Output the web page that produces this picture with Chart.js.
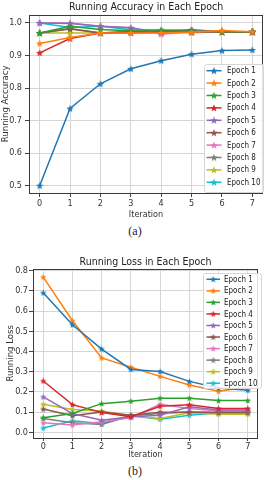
<!doctype html>
<html>
<head>
<meta charset="utf-8">
<title>Running Accuracy / Running Loss</title>
<script src="https://cdn.jsdelivr.net/npm/chart.js@4.4.0/dist/chart.umd.min.js"></script>
<style>
body { margin: 0; width: 270px; height: 480px; background: #fff; position: relative; overflow: hidden; }
canvas { position: absolute; left: 0; }
#accCanvas { top: 0; }
#lossCanvas { top: 255px; }
.cap { position: absolute; left: 0; width: 270px; text-align: center; line-height: 14px;
       font-family: "Liberation Serif", "DejaVu Serif", serif; font-size: 12px; color: #222; }
</style>
</head>
<body>
<canvas id="accCanvas" width="270" height="222"></canvas>
<div class="cap" style="top:224px">(a)</div>
<canvas id="lossCanvas" width="270" height="206"></canvas>
<div class="cap" style="top:464px">(b)</div>

<script>
// x axis: iteration index
var iterations = [0, 1, 2, 3, 4, 5, 6, 7];
var epochNames = ['Epoch 1', 'Epoch 2', 'Epoch 3', 'Epoch 4', 'Epoch 5',
                  'Epoch 6', 'Epoch 7', 'Epoch 8', 'Epoch 9', 'Epoch 10'];
var epochColors = ['#1f77b4', '#ff7f0e', '#2ca02c', '#d62728', '#9467bd',
                   '#8c564b', '#e377c2', '#7f7f7f', '#bcbd22', '#17becf'];

// running accuracy per epoch
var accE1  = [0.500, 0.737, 0.813, 0.859, 0.884, 0.904, 0.915, 0.917];
var accE2  = [0.937, 0.955, 0.969, 0.969, 0.969, 0.971, 0.977, 0.973];
var accE3  = [0.969, 0.990, 0.980, 0.976, 0.975, 0.974, 0.973, 0.973];
var accE4  = [0.908, 0.952, 0.969, 0.970, 0.972, 0.973, 0.973, 0.973];
var accE5  = [1.000, 0.998, 0.990, 0.985, 0.970, 0.975, 0.973, 0.973];
var accE6  = [0.969, 0.981, 0.969, 0.972, 0.976, 0.979, 0.973, 0.973];
var accE7  = [1.000, 1.000, 0.990, 0.985, 0.965, 0.973, 0.973, 0.973];
var accE8  = [0.969, 0.983, 0.969, 0.975, 0.972, 0.972, 0.973, 0.973];
var accE9  = [0.969, 0.969, 0.969, 0.970, 0.970, 0.970, 0.973, 0.973];
var accE10 = [1.000, 0.986, 0.990, 0.979, 0.979, 0.974, 0.973, 0.973];

// running loss per epoch
var lossE1  = [0.690, 0.532, 0.412, 0.311, 0.301, 0.252, 0.219, 0.208];
var lossE2  = [0.768, 0.552, 0.368, 0.322, 0.277, 0.234, 0.203, 0.224];
var lossE3  = [0.072, 0.093, 0.142, 0.154, 0.169, 0.169, 0.157, 0.157];
var lossE4  = [0.254, 0.137, 0.098, 0.077, 0.129, 0.137, 0.118, 0.118];
var lossE5  = [0.175, 0.093, 0.060, 0.077, 0.085, 0.126, 0.110, 0.110];
var lossE6  = [0.115, 0.082, 0.100, 0.085, 0.100, 0.100, 0.100, 0.100];
var lossE7  = [0.047, 0.036, 0.052, 0.072, 0.139, 0.118, 0.106, 0.106];
var lossE8  = [0.069, 0.047, 0.039, 0.082, 0.093, 0.100, 0.097, 0.097];
var lossE9  = [0.139, 0.113, 0.105, 0.082, 0.069, 0.097, 0.090, 0.090];
var lossE10 = [0.021, 0.057, 0.044, 0.082, 0.065, 0.085, 0.097, 0.097];

var accTicks  = [0.5, 0.6, 0.7, 0.8, 0.9, 1.0];
var lossTicks = [0.0, 0.1, 0.2, 0.3, 0.4, 0.5, 0.6, 0.7, 0.8];

var accSeries  = [accE1, accE2, accE3, accE4, accE5, accE6, accE7, accE8, accE9, accE10];
var lossSeries = [lossE1, lossE2, lossE3, lossE4, lossE5, lossE6, lossE7, lossE8, lossE9, lossE10];

var FONT = "'Liberation Sans Narrow', 'DejaVu Sans Condensed', 'Liberation Sans', sans-serif";
var TXT = '#333';

// filled five point star, like matplotlib's '*' marker
function starImage(color, size) {
	var c = document.createElement('canvas');
	c.width = c.height = size;
	var g = c.getContext('2d');
	var r = size / 2, ri = r * 0.42;
	g.beginPath();
	for (var i = 0; i < 10; i++) {
		var a = -Math.PI / 2 + i * Math.PI / 5;
		var rr = (i % 2) ? ri : r;
		g.lineTo(r + rr * Math.cos(a), r * 1.08 + rr * Math.sin(a));
	}
	g.closePath();
	g.fillStyle = color;
	g.fill();
	return c;
}

// axes frame + legend box inside the plot, matplotlib style
var frameLegend = {
	id: 'frameLegend',
	afterDraw: function(chart, args, o) {
		var ctx = chart.ctx, a = chart.chartArea;
		ctx.save();
		ctx.strokeStyle = '#3a3a3a';
		ctx.lineWidth = 1;
		ctx.strokeRect(Math.round(a.left) + 0.5, Math.round(a.top) + 0.5,
			Math.round(a.right - a.left) - 1, Math.round(a.bottom - a.top));

		var L = o.box;
		ctx.fillStyle = 'rgba(255,255,255,0.85)';
		ctx.strokeStyle = '#d6d6d6';
		ctx.beginPath();
		ctx.roundRect(L.x + 0.5, L.y + 0.5, L.w, L.h, 2);
		ctx.fill();
		ctx.stroke();
		ctx.font = L.font + 'px ' + FONT;
		ctx.textBaseline = 'middle';
		chart.data.datasets.forEach(function(ds, i) {
			var y = L.y0 + i * L.dy;
			ctx.strokeStyle = ds.borderColor;
			ctx.lineWidth = ds.borderWidth;
			ctx.beginPath();
			ctx.moveTo(L.lx0, y);
			ctx.lineTo(L.lx1, y);
			ctx.stroke();
			var s = ds.pointStyle.width;
			ctx.drawImage(ds.pointStyle, (L.lx0 + L.lx1) / 2 - s / 2, y - s / 2);
			ctx.fillStyle = '#222';
			ctx.fillText(ds.label, L.tx, y + 0.5);
		});
		ctx.restore();
	}
};

function drawEpochChart(id, series, yTicks, cfg) {
	var datasets = series.map(function(vals, i) {
		return {
			label: epochNames[i],
			data: iterations.map(function(x, j) { return { x: x, y: vals[j] }; }),
			borderColor: epochColors[i],
			backgroundColor: epochColors[i],
			borderWidth: 1.5,
			pointStyle: starImage(epochColors[i], cfg.star),
			tension: 0
		};
	});
	var ctx = document.getElementById(id).getContext('2d');
	return new Chart(ctx, {
		type: 'line',
		data: { datasets: datasets },
		plugins: [frameLegend],
		options: {
			responsive: false,
			animation: false,
			events: [],
			layout: { padding: { left: 0, right: cfg.padRight, top: 0, bottom: 0 } },
			plugins: {
				legend: { display: false },
				tooltip: { enabled: false },
				title: {
					display: true,
					text: cfg.title,
					fullSize: false,
					color: '#222',
					font: { family: FONT, size: 10.5, weight: 'normal', lineHeight: 1.2 },
					padding: cfg.titlePad
				},
				frameLegend: { box: cfg.legend }
			},
			scales: {
				x: {
					type: 'linear',
					min: -0.35, max: 7.35,
					afterFit: function(s) { s.height = cfg.xH; },
					afterBuildTicks: function(s) { s.ticks = iterations.map(function(v) { return { value: v }; }); },
					grid: { color: '#d6d6d6', lineWidth: 1, tickColor: '#444', tickLength: cfg.xTickLen },
					border: { display: false },
					ticks: { color: TXT, font: { family: FONT, size: 9 }, padding: cfg.xTickPad, maxRotation: 0,
						callback: function(v) { return String(v); } },
					title: { display: true, text: 'Iteration', color: TXT, font: { family: FONT, size: 9 },
						padding: { top: 0, bottom: cfg.xTitlePad } }
				},
				y: {
					type: 'linear',
					min: cfg.yMin, max: cfg.yMax,
					afterFit: function(s) { s.width = cfg.yW; },
					afterBuildTicks: function(s) { s.ticks = yTicks.map(function(v) { return { value: v }; }); },
					grid: { color: '#d6d6d6', lineWidth: 1, tickColor: '#444', tickLength: 4 },
					border: { display: false },
					ticks: { color: TXT, font: { family: FONT, size: 9 }, padding: cfg.yTickPad,
						callback: function(v) { return v.toFixed(1); } },
					title: { display: true, text: cfg.yLabel, color: TXT, font: { family: FONT, size: 9.5 },
						padding: { top: cfg.yTitlePad, bottom: 0 } }
				}
			}
		}
	});
}

drawEpochChart('accCanvas', accSeries, accTicks, {
	title: 'Running Accuracy in Each Epoch',
	yLabel: 'Running Accuracy',
	yMin: 0.4775, yMax: 1.0255,
	star: 8,
	padRight: 7, titlePad: { top: 1, bottom: 1 },
	xH: 29, xTickLen: 4, xTickPad: 1, xTitlePad: 2,
	yW: 29, yTickPad: 3, yTitlePad: 0,
	legend: { x: 204, y: 64, w: 59, h: 128, y0: 70.7, dy: 12.4, lx0: 206.5, lx1: 221.5, tx: 227, font: 8 }
});

drawEpochChart('lossCanvas', lossSeries, lossTicks, {
	title: 'Running Loss in Each Epoch',
	yLabel: 'Running Loss',
	yMin: -0.028, yMax: 0.81,
	star: 7,
	padRight: 12, titlePad: { top: 1, bottom: 0 },
	xH: 23, xTickLen: 3, xTickPad: 0, xTitlePad: 0.6,
	yW: 33, yTickPad: 1, yTitlePad: 4.5,
	legend: { x: 203, y: 18, w: 58, h: 115, y0: 24.3, dy: 11.55, lx0: 206.5, lx1: 220, tx: 224, font: 8 }
});
</script>
</body>
</html>
